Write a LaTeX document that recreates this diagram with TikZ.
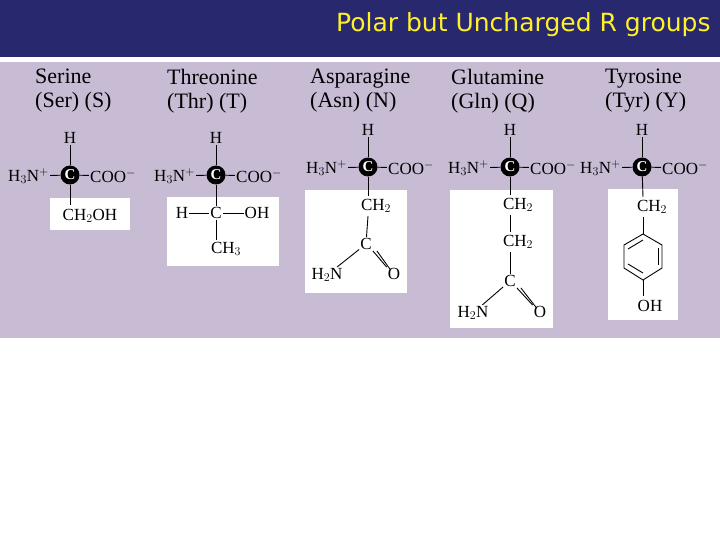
\documentclass[tikz,border=0pt]{standalone}
\usepackage{fontspec}
\setmainfont{Liberation Serif}
\newfontfamily\titlefont{DejaVu Sans}
\begin{document}
\begin{tikzpicture}[x=1pt,y=-1pt,
 ttl/.style={anchor=west,font=\fontsize{22}{24}\selectfont,align=left,inner sep=0},
 chem/.style={font=\fontsize{17}{18}\selectfont,inner sep=1pt},
 cc/.style={circle,fill=black,text=white,minimum size=19pt,inner sep=0,font=\fontsize{15}{15}\selectfont\bfseries},
 box/.style={fill=white,draw=none},
 bond/.style={line width=0.9pt,black}]
\useasboundingbox (0,0) rectangle (720,540);
\fill[white] (0,0) rectangle (720,540);
\fill[fill={rgb,255:red,40;green,40;blue,110}] (0,0) rectangle (720,57);
\node[anchor=east,text={rgb,255:red,255;green,240;blue,40},font=\titlefont\fontsize{25}{27}\selectfont] (title) at (714,25) {Polar but Uncharged R groups};
\fill[fill={rgb,255:red,200;green,188;blue,212}] (0,62) rectangle (720,338);
% titles
\node[ttl] (t1) at (35,91) {Serine\\(Ser) (S)};
\node[ttl] (t2) at (167,91) {Threonine\\(Thr) (T)};
\node[ttl] (t3) at (310,91) {Asparagine\\(Asn) (N)};
\node[ttl] (t4) at (451,91) {Glutamine\\(Gln) (Q)};
\node[ttl] (t5) at (605,91) {Tyrosine\\(Tyr) (Y)};
% boxes
\fill[box] (50,198) rectangle (130,230);
\fill[box] (167,197) rectangle (279,266);
\fill[box] (305,190) rectangle (407,293);
\fill[box] (450,190) rectangle (553,328);
\fill[box] (608,189) rectangle (678,320);
% Serine
\node[cc] (c1) at (70,175) {C};
\node[chem] (h1) at (70,138) {H};
\node[chem,anchor=east] (n1) at (50,176) {H$_3$N$^+$};
\node[chem,anchor=west] (o1) at (89,176) {COO$^-$};
\node[chem] (r1) at (90,216) {CH$_2$OH};
\draw[bond] (h1)--(c1); \draw[bond] (n1)--(c1); \draw[bond] (c1)--(o1); \draw[bond] (c1)--(70,205);
% Threonine
\node[cc] (c2) at (216,175) {C};
\node[chem] (h2) at (216,138) {H};
\node[chem,anchor=east] (n2) at (196,176) {H$_3$N$^+$};
\node[chem,anchor=west] (o2) at (235,176) {COO$^-$};
\node[chem] (cb2) at (216,213) {C};
\node[chem] (hb2) at (182,213) {H};
\node[chem] (oh2) at (257,213) {OH};
\node[chem] (m2) at (226,249) {CH$_3$};
\draw[bond] (h2)--(c2); \draw[bond] (n2)--(c2); \draw[bond] (c2)--(cb2); \draw[bond] (c2)--(o2);
\draw[bond] (hb2)--(cb2); \draw[bond] (cb2)--(oh2); \draw[bond] (cb2)--(216,240);
% Asparagine
\node[cc] (c3) at (368,167) {C};
\node[chem] (h3) at (368,130) {H};
\node[chem,anchor=east] (n3) at (348,168) {H$_3$N$^+$};
\node[chem,anchor=west] (o3) at (387,168) {COO$^-$};
\node[chem] (cb3) at (376,206) {CH$_2$};
\node[chem] (cg3) at (366,244) {C};
\node[chem] (nh3) at (327,275) {H$_2$N};
\node[chem] (ox3) at (394,274) {O};
\draw[bond] (h3)--(c3); \draw[bond] (n3)--(c3); \draw[bond] (c3)--(o3); \draw[bond] (c3)--(368,196);
\draw[bond] (368,216)--(cg3); \draw[bond] (cg3)--(nh3);
\draw[bond] (cg3.south east)--(ox3.north west); \draw[bond] ([xshift=4pt]cg3.south east)--([xshift=4pt,yshift=-3pt]ox3.north west);
% Glutamine
\node[cc] (c4) at (510,167) {C};
\node[chem] (h4) at (510,130) {H};
\node[chem,anchor=east] (n4) at (490,168) {H$_3$N$^+$};
\node[chem,anchor=west] (o4) at (529,168) {COO$^-$};
\node[chem] (cb4) at (518,205) {CH$_2$};
\node[chem] (cg4) at (518,242) {CH$_2$};
\node[chem] (cd4) at (510,281) {C};
\node[chem] (nh4) at (473,313) {H$_2$N};
\node[chem] (ox4) at (540,312) {O};
\draw[bond] (h4)--(c4); \draw[bond] (n4)--(c4); \draw[bond] (c4)--(o4); \draw[bond] (c4)--(510,195);
\draw[bond] (510,215)--(510,232); \draw[bond] (510,252)--(cd4); \draw[bond] (cd4)--(nh4);
\draw[bond] (cd4.south east)--(ox4.north west); \draw[bond] ([xshift=4pt]cd4.south east)--([xshift=4pt,yshift=-3pt]ox4.north west);
% Tyrosine
\node[cc] (c5) at (642,167) {C};
\node[chem] (h5) at (642,130) {H};
\node[chem,anchor=east] (n5) at (622,168) {H$_3$N$^+$};
\node[chem,anchor=west] (o5) at (661,168) {COO$^-$};
\node[chem] (cb5) at (652,207) {CH$_2$};
\node[chem] (oh5) at (650,306) {OH};
\draw[bond] (h5)--(c5); \draw[bond] (n5)--(c5); \draw[bond] (c5)--(o5); \draw[bond] (c5)--(643,197);
\coordinate (r1) at (643,234); \coordinate (r2) at (662,245); \coordinate (r3) at (662,268);
\coordinate (r4) at (643,280); \coordinate (r5) at (624,268); \coordinate (r6) at (624,245);
\draw[bond] (643,217)--(r1);
\draw[bond] (r1)--(r2)--(r3)--(r4)--(r5)--(r6)--cycle;
\draw[bond] (658,248)--(658,265); \draw[bond] (628,264)--(643,273); \draw[bond] (628,249)--(643,240);
\draw[bond] (r4)--(643,296);
\end{tikzpicture}
\end{document}
